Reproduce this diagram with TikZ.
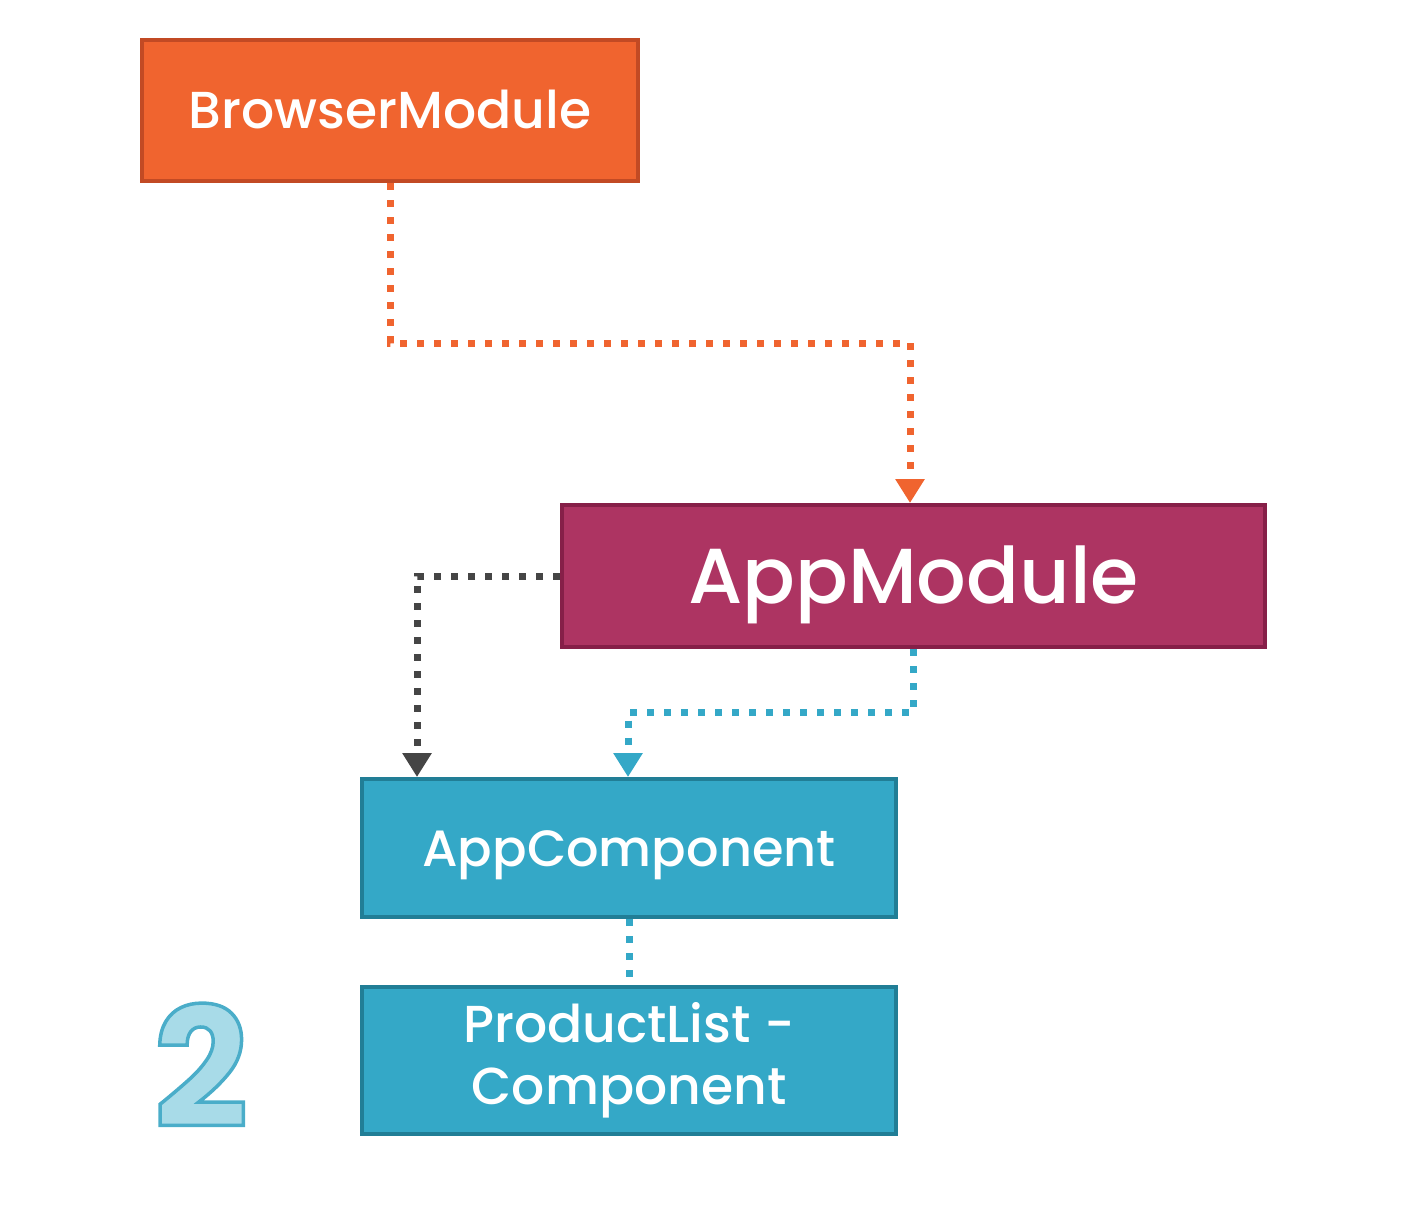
\documentclass[tikz,border=0pt]{standalone}
\usepackage{fontspec}
\setmainfont{Poppins}[UprightFont={* Medium},BoldFont={* Bold}]
\usetikzlibrary{arrows.meta,calc}
\definecolor{orfill}{HTML}{F0642F}
\definecolor{ordraw}{HTML}{C24A24}
\definecolor{mgfill}{HTML}{AD3462}
\definecolor{mgdraw}{HTML}{861F48}
\definecolor{tlfill}{HTML}{34A8C7}
\definecolor{tldraw}{HTML}{217E96}
\definecolor{grline}{HTML}{454545}
\tikzset{
  box/.style={rectangle, line width=4pt, inner sep=0pt, text=white, align=center},
  conn/.style={line width=7pt, dash pattern=on 7pt off 10pt},
  tip/.style={-{Triangle[width=28pt,length=24pt]}}
}
\begin{document}
\begin{tikzpicture}[x=1pt,y=-1pt]
\useasboundingbox (0,0) rectangle (1420,1220);
\node[box, fill=orfill, draw=ordraw, minimum width=496pt, minimum height=141pt, text height=36pt, text depth=0pt, font=\fontsize{52}{60}\selectfont] (bm) at (390,110.5) {BrowserModule};
\node[box, fill=mgfill, draw=mgdraw, minimum width=703pt, minimum height=142pt, text height=54pt, text depth=0pt, font=\fontsize{78}{86}\selectfont] (am) at (913.5,576) {AppModule};
\node[box, fill=tlfill, draw=tldraw, minimum width=534pt, minimum height=138pt, text height=36pt, text depth=0pt, font=\fontsize{51}{60}\selectfont] (ac) at (629,848) {AppComponent};
\node[box, fill=tlfill, draw=tldraw, minimum width=534pt, minimum height=147pt, font=\fontsize{52}{62}\selectfont] (pl) at (629,1060.5) {ProductList -\\Component};
\coordinate (c1) at (910,343);
\coordinate (g1) at (417,777);
\coordinate (b1) at (628,712);
\draw[conn, orfill, tip] (bm.south) |- (c1) -- (am.north -| c1);
\draw[conn, grline, tip] (am.west) -| (g1);
\draw[conn, tlfill, tip] (am.south) |- (b1) -- (ac.north -| b1);
\draw[conn, tlfill] (ac.south) -- (pl.north);
\node[font=\bfseries\fontsize{166}{166}\selectfont, inner sep=0pt] (two) at (201,1065) {\special{pdf:literal direct q 2 Tr 3.5 w 0.29 0.68 0.79 RG 0.66 0.86 0.91 rg}2\special{pdf:literal direct 0 Tr Q}};
\end{tikzpicture}
\end{document}
